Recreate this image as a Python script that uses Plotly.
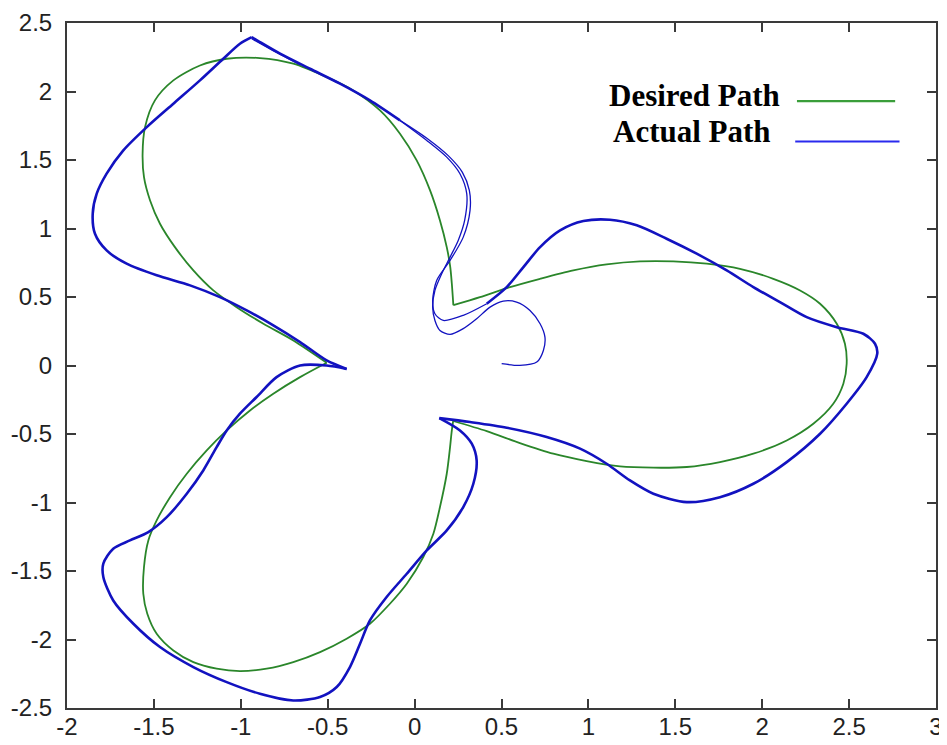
import plotly.graph_objects as go

# ---------------- data ----------------
x_tick_vals = [-2, -1.5, -1, -0.5, 0, 0.5, 1, 1.5, 2, 2.5, 3]
x_tick_text = ["-2", "-1.5", "-1", "-0.5", "0", "0.5", "1", "1.5", "2", "2.5", "3"]
y_tick_vals = [-2.5, -2, -1.5, -1, -0.5, 0, 0.5, 1, 1.5, 2, 2.5]
y_tick_text = ["-2.5", "-2", "-1.5", "-1", "-0.5", "0", "0.5", "1", "1.5", "2", "2.5"]

legend_labels = ["Desired Path", "Actual Path"]

# Desired path: upper-left petal (upper corner -> left corner)
desired_ul_x = [0.223, 0.214, 0.205, 0.185, 0.146, 0.089, 0.012, -0.084, -0.199, -0.353,
                -0.506, -0.698, -0.890, -1.081, -1.235, -1.388, -1.494, -1.551, -1.565,
                -1.557, -1.522, -1.465, -1.379, -1.273, -1.158, -1.024, -0.870, -0.698, -0.506]
desired_ul_y = [0.440, 0.600, 0.720, 0.864, 1.059, 1.278, 1.497, 1.692, 1.862, 2.008,
                2.105, 2.203, 2.244, 2.239, 2.190, 2.081, 1.935, 1.740, 1.546,
                1.375, 1.205, 1.035, 0.864, 0.694, 0.548, 0.426, 0.305, 0.183, 0.020]

# Desired path: lower-left petal (left corner -> lower corner)
desired_ll_x = [-0.506, -0.659, -0.813, -0.947, -1.081, -1.196, -1.311, -1.407, -1.484,
                -1.532, -1.557, -1.561, -1.538, -1.484, -1.388, -1.273, -1.139, -1.005,
                -0.851, -0.698, -0.544, -0.391, -0.257, -0.142, -0.045, 0.050, 0.108,
                0.146, 0.185, 0.204, 0.213, 0.222]
desired_ll_y = [0.020, -0.085, -0.206, -0.328, -0.474, -0.620, -0.790, -0.961, -1.131,
                -1.277, -1.471, -1.666, -1.812, -1.958, -2.080, -2.165, -2.213, -2.231,
                -2.213, -2.165, -2.092, -1.994, -1.885, -1.739, -1.593, -1.398, -1.228,
                -1.033, -0.790, -0.596, -0.486, -0.405]

# Desired path: right petal (lower corner -> upper corner)
desired_r_x = [0.222, 0.415, 0.606, 0.798, 0.990, 1.182, 1.374, 1.566, 1.757, 1.949,
               2.141, 2.294, 2.409, 2.467, 2.486, 2.476, 2.429, 2.333, 2.218, 2.064,
               1.872, 1.681, 1.489, 1.297, 1.105, 0.913, 0.722, 0.549, 0.376, 0.223]
desired_r_y = [-0.405, -0.479, -0.566, -0.644, -0.698, -0.737, -0.746, -0.741, -0.705, -0.644,
               -0.547, -0.425, -0.279, -0.133, 0.013, 0.159, 0.305, 0.451, 0.548, 0.633,
               0.706, 0.743, 0.760, 0.760, 0.738, 0.694, 0.633, 0.572, 0.499, 0.440]

# Actual path: start-up transient and first climb of the upper-left petal
actual_start_x = [0.501, 0.606, 0.703, 0.741, 0.750, 0.722, 0.664, 0.587, 0.510, 0.434,
                  0.357, 0.280, 0.204, 0.146, 0.117, 0.104, 0.117, 0.156, 0.204, 0.251,
                  0.288, 0.300, 0.261, 0.185, 0.070, -0.084]
actual_start_y = [0.013, 0.001, 0.025, 0.110, 0.207, 0.305, 0.402, 0.463, 0.470, 0.426,
                  0.341, 0.269, 0.227, 0.256, 0.329, 0.426, 0.548, 0.670, 0.791, 0.913,
                  1.059, 1.254, 1.400, 1.521, 1.643, 1.789]

# Actual path: second climb of the upper-left petal
actual_lap2_x = [0.415, 0.280, 0.165, 0.117, 0.104, 0.127, 0.204, 0.280, 0.319, 0.315,
                 0.275, 0.195, 0.080, -0.084]
actual_lap2_y = [0.451, 0.366, 0.329, 0.378, 0.475, 0.621, 0.767, 0.937, 1.132, 1.278,
                 1.410, 1.530, 1.650, 1.789]

# Actual path: top of the upper-left petal up to its tip
actual_top_x = [-0.084, -0.257, -0.429, -0.602, -0.774, -0.890, -0.937]
actual_top_y = [1.789, 1.935, 2.057, 2.166, 2.276, 2.361, 2.397]

# second lap near the top tip
actual_tip_x = [-0.937, -0.860, -0.773, -0.660]
actual_tip_y = [2.385, 2.330, 2.270, 2.195]

# Actual path: left side of upper-left petal (tip -> left cusp)
actual_ul_x = [-0.937, -1.005, -1.101, -1.235, -1.388, -1.541, -1.676, -1.772, -1.829,
               -1.852, -1.839, -1.772, -1.657, -1.484, -1.292, -1.120, -0.966, -0.813,
               -0.659, -0.506, -0.391]
actual_ul_y = [2.397, 2.349, 2.239, 2.081, 1.911, 1.740, 1.570, 1.400, 1.254,
               1.108, 0.962, 0.840, 0.743, 0.658, 0.585, 0.499, 0.402, 0.293,
               0.171, 0.037, -0.025]

# Actual path: lower-left petal (left cusp -> lower cusp)
actual_ll_x = [-0.391, -0.506, -0.659, -0.794, -0.909, -1.005, -1.081, -1.139, -1.216,
               -1.311, -1.426, -1.532, -1.638, -1.734, -1.791, -1.791, -1.734, -1.618,
               -1.465, -1.273, -1.081, -0.890, -0.698, -0.544, -0.448, -0.372, -0.314,
               -0.257, -0.161, -0.045, 0.070, 0.185, 0.280, 0.338, 0.357, 0.329, 0.261,
               0.142]
actual_ll_y = [-0.025, 0.000, 0.000, -0.085, -0.230, -0.352, -0.474, -0.596, -0.766,
               -0.936, -1.107, -1.216, -1.277, -1.337, -1.447, -1.544, -1.715, -1.885,
               -2.055, -2.201, -2.311, -2.396, -2.445, -2.420, -2.347, -2.201, -2.031,
               -1.861, -1.690, -1.520, -1.350, -1.204, -1.033, -0.863, -0.693, -0.571, -0.474,
               -0.384]

# Actual path: right petal (lower cusp -> back towards the centre)
actual_r_x = [0.142, 0.319, 0.530, 0.760, 0.952, 1.105, 1.239, 1.374, 1.566, 1.757,
              1.949, 2.141, 2.333, 2.486, 2.601, 2.662, 2.649, 2.582, 2.429, 2.256,
              2.102, 1.949, 1.796, 1.623, 1.450, 1.278, 1.124, 0.971, 0.837, 0.722,
              0.626, 0.530, 0.415]
actual_r_y = [-0.384, -0.413, -0.454, -0.522, -0.607, -0.717, -0.839, -0.936, -0.997, -0.961,
              -0.863, -0.705, -0.498, -0.279, -0.085, 0.086, 0.159, 0.232, 0.280, 0.353,
              0.463, 0.572, 0.694, 0.816, 0.925, 1.023, 1.064, 1.054, 0.986, 0.864,
              0.718, 0.572, 0.451]

# ---------------- styles ----------------
GREEN = "#2a862a"
BLUE = "#1212c0"
LEG_GREEN = "#3a9e3a"
LEG_BLUE = "#2a2aee"

fig = go.Figure()

def add(xs, ys, color, width):
    fig.add_trace(go.Scatter(x=xs, y=ys, mode="lines",
                             line=dict(color=color, width=width, shape="spline", smoothing=0.8),
                             showlegend=False, hoverinfo="skip"))

for xs, ys in [(desired_ul_x, desired_ul_y), (desired_ll_x, desired_ll_y), (desired_r_x, desired_r_y)]:
    add(xs, ys, GREEN, 1.8)

for xs, ys in [(actual_start_x, actual_start_y), (actual_lap2_x, actual_lap2_y), (actual_tip_x, actual_tip_y)]:
    add(xs, ys, BLUE, 1.3)

for xs, ys in [(actual_top_x, actual_top_y), (actual_ul_x, actual_ul_y),
               (actual_ll_x, actual_ll_y), (actual_r_x, actual_r_y)]:
    add(xs, ys, BLUE, 2.6)

# ---------------- custom legend (text left, line sample right) ----------------
LEG_FONT = dict(family="Liberation Serif, Times New Roman, serif", size=31, color="#000")
fig.add_annotation(x=0.621, y=0.894, xref="paper", yref="paper", text="<b>" + legend_labels[0] + "</b>",
                   showarrow=False, xanchor="left", yanchor="middle", font=LEG_FONT)
fig.add_annotation(x=0.626, y=0.842, xref="paper", yref="paper", text="<b>" + legend_labels[1] + "</b>",
                   showarrow=False, xanchor="left", yanchor="middle", font=LEG_FONT)
fig.add_shape(type="line", xref="paper", yref="paper", x0=0.840, x1=0.953, y0=0.886, y1=0.886,
              line=dict(color=LEG_GREEN, width=2.2))
fig.add_shape(type="line", xref="paper", yref="paper", x0=0.838, x1=0.958, y0=0.827, y1=0.827,
              line=dict(color=LEG_BLUE, width=2.2))

axis_common = dict(showline=True, linecolor="#3a3a3a", linewidth=2, mirror="ticks",
                   ticks="inside", ticklen=9, tickwidth=1.5, tickcolor="#3a3a3a",
                   showgrid=False, zeroline=False, automargin=False,
                   tickfont=dict(family="Liberation Sans, Arial, sans-serif", size=24, color="#222"))

# page body has an 8px margin, so the figure is sized/placed to compensate
fig.update_layout(
    width=939, height=737,
    margin=dict(l=59, r=11, t=15, b=37),
    paper_bgcolor="white", plot_bgcolor="white",
    xaxis=dict(range=[-2, 3], tickvals=x_tick_vals, ticktext=x_tick_text,
               ticklabelstandoff=-4, **axis_common),
    yaxis=dict(range=[-2.5, 2.5], tickvals=y_tick_vals, ticktext=y_tick_text,
               ticklabelstandoff=8, **axis_common),
    showlegend=False,
)

fig.write_html("out.html")
